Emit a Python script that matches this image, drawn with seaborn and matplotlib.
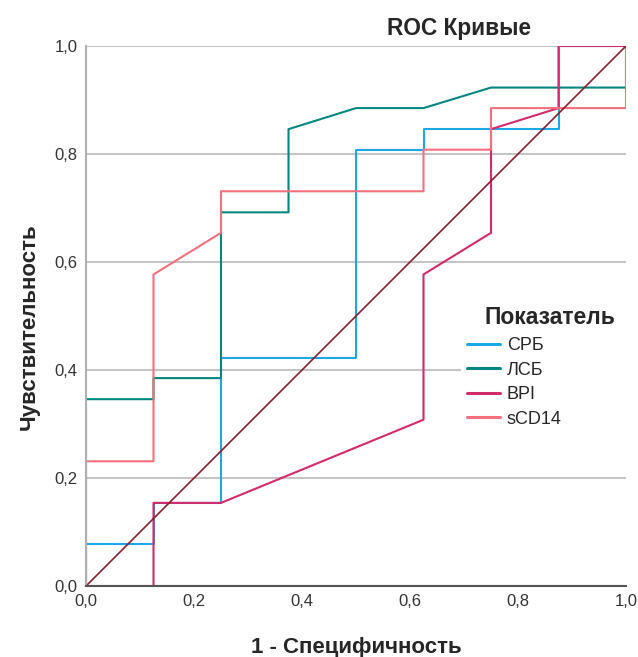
import matplotlib
matplotlib.use("Agg")
import matplotlib.pyplot as plt
from matplotlib.patches import Rectangle
import seaborn as sns
import pandas as pd

# ROC points (1 - specificity, sensitivity)
crb_x = [0, 0, 0.125, 0.125, 0.25, 0.25, 0.5, 0.5, 0.625, 0.625, 0.875, 0.875, 1.0]
crb_y = [0, 0.077, 0.077, 0.154, 0.154, 0.423, 0.423, 0.808, 0.808, 0.846, 0.846, 1.0, 1.0]

lsb_x = [0, 0, 0.125, 0.125, 0.25, 0.25, 0.375, 0.375, 0.5, 0.625, 0.75, 1.0, 1.0]
lsb_y = [0, 0.346, 0.346, 0.385, 0.385, 0.692, 0.692, 0.846, 0.885, 0.885, 0.923, 0.923, 1.0]

bpi_x = [0, 0.125, 0.125, 0.25, 0.625, 0.625, 0.75, 0.75, 0.875, 0.875, 1.0]
bpi_y = [0, 0, 0.154, 0.154, 0.308, 0.577, 0.654, 0.846, 0.885, 1.0, 1.0]

scd_x = [0, 0, 0.125, 0.125, 0.25, 0.25, 0.625, 0.625, 0.75, 0.75, 1.0, 1.0]
scd_y = [0, 0.231, 0.231, 0.577, 0.654, 0.731, 0.731, 0.808, 0.808, 0.885, 0.885, 1.0]

ref_x = [0, 1]
ref_y = [0, 1]

names = ["СРБ", "ЛСБ", "BPI", "sCD14"]
colors = ["#1aa9e3", "#00877f", "#d42a6b", "#f4707c"]
ticks = [0, 0.2, 0.4, 0.6, 0.8, 1.0]
tick_labels = ["0,0", "0,2", "0,4", "0,6", "0,8", "1,0"]

sns.set_style("white")
plt.rcParams["font.family"] = ["Liberation Sans", "DejaVu Sans"]

rows = []
for name, xs, ys in zip(names, [crb_x, lsb_x, bpi_x, scd_x], [crb_y, lsb_y, bpi_y, scd_y]):
    for i, (x, y) in enumerate(zip(xs, ys)):
        rows.append({"Показатель": name, "x": x, "y": y, "order": i})
df = pd.DataFrame(rows)

fig = plt.figure(figsize=(6.38, 6.57), dpi=100)
ax = fig.add_axes([0.1348, 0.108, 0.8464, 0.822])

sns.lineplot(data=df, x="x", y="y", hue="Показатель", hue_order=names,
             palette=colors, sort=False, estimator=None, units="Показатель",
             linewidth=1.5, ax=ax)
sns.lineplot(x=ref_x, y=ref_y, color="#8e1c2c", linewidth=1.2, ax=ax, legend=False)

ax.set_xlim(0, 1)
ax.set_ylim(0, 1)
ax.set_xticks(ticks)
ax.set_yticks(ticks)
ax.set_xticklabels(tick_labels)
ax.set_yticklabels(tick_labels)
ax.tick_params(labelsize=12, colors="#333333", length=0, pad=6)
ax.yaxis.grid(True, color="#c4c4c4", linewidth=1.5)
ax.set_axisbelow(True)
for s in ["top", "right"]:
    ax.spines[s].set_visible(False)
ax.spines["left"].set_color("#b0b0b0")
ax.spines["left"].set_linewidth(1.5)
ax.spines["bottom"].set_color("#555555")
ax.spines["bottom"].set_linewidth(1.5)

# white area behind the legend hides the gridline there
ax.add_patch(Rectangle((0.694, 0.27), 0.31, 0.31, facecolor="white",
                       edgecolor="none", zorder=1, clip_on=False))

ax.set_xlabel("1 - Специфичность", fontsize=16, fontweight="bold", labelpad=20)
ax.set_ylabel("Чувствительность", fontsize=16, fontweight="bold")
ax.yaxis.set_label_coords(-0.086, 0.48)
fig.text(0.72, 0.957, "ROC Кривые", fontsize=16.3, fontweight="bold", ha="center", va="center")
fig.text(485 / 638, 1 - 318 / 657, "Показатель", fontsize=16.5, fontweight="bold",
         ha="left", va="center")

leg = ax.legend(loc="upper left", bbox_to_anchor=(467 / 638, 1 - 337 / 657),
                bbox_transform=fig.transFigure, frameon=False, fontsize=13,
                handlelength=1.85, handletextpad=0.35, labelspacing=0.42,
                borderpad=0, borderaxespad=0)
for line in leg.get_lines():
    line.set_linewidth(2.2)

fig.savefig("out.png", dpi=100, facecolor="white")
